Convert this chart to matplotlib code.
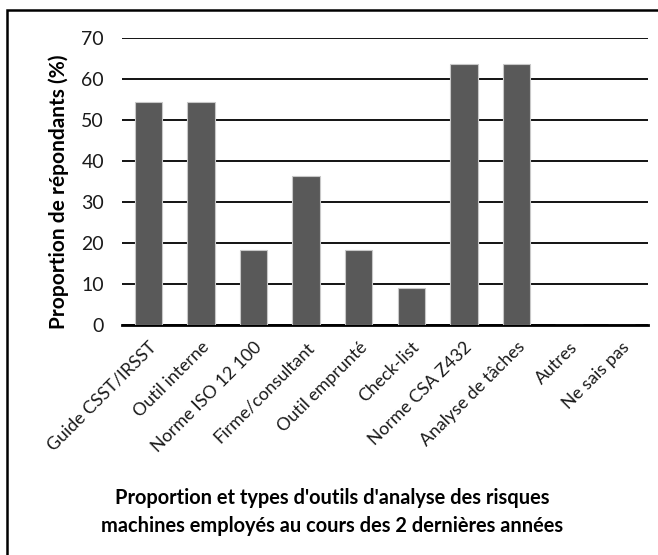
import matplotlib
matplotlib.use("Agg")
import matplotlib.pyplot as plt
from matplotlib.patches import Rectangle

categories = ["Guide CSST/IRSST", "Outil interne", "Norme ISO 12 100",
              "Firme/consultant", "Outil emprunté", "Check-list",
              "Norme CSA Z432", "Analyse de tâches", "Autres", "Ne sais pas"]
values = [54.5, 54.5, 18.2, 36.4, 18.2, 9.1, 63.6, 63.6, 0, 0]
yticks = [0, 10, 20, 30, 40, 50, 60, 70]
ylabel = "Proportion de répondants (%)"
title = "Proportion et types d'outils d'analyse des risques\nmachines employés au cours des 2 dernières années"

plt.rcParams['font.family'] = ['Lato', 'DejaVu Sans']

W, H = 658, 555
fig = plt.figure(figsize=(W/100, H/100), dpi=100)

def fx(px): return px / W
def fy(py): return 1 - py / H

ax = fig.add_axes([fx(122), fy(325), fx(648) - fx(122), fy(38) - fy(325)])
x = list(range(len(categories)))
ax.bar(x, values, width=0.52, color="#595959", edgecolor="#c8c8c8", linewidth=0.8, zorder=3)
ax.set_xlim(-0.5, len(categories) - 0.5)
ax.set_ylim(0, 70)
ax.set_yticks(yticks)
ax.set_yticklabels([str(t) for t in yticks], fontsize=14, color="#1a1a1a")
ax.yaxis.grid(True, color="black", linewidth=1.3, zorder=0)
ax.set_axisbelow(True)
for s in ["top", "right", "left"]:
    ax.spines[s].set_visible(False)
ax.spines["bottom"].set_linewidth(2)
ax.tick_params(axis="y", length=0, pad=13)
ax.tick_params(axis="x", length=0, pad=10)
ax.set_xticks(x)
ax.set_xticklabels(categories, rotation=45, ha="right", rotation_mode="anchor",
                   fontsize=12.8, color="#1a1a1a")
ax.set_ylabel(ylabel, fontsize=15, fontweight="bold")
ax.yaxis.set_label_coords(-0.1, 0.465)

fig.text(fx(332), fy(512), title, ha="center", va="center", fontsize=14.4,
         fontweight="bold", linespacing=1.5)

fig.patches.append(Rectangle((fx(7), fy(600)), 1.2, fy(10) - fy(600),
                             transform=fig.transFigure, fill=False,
                             edgecolor="black", linewidth=1.8))

fig.savefig("out.png", dpi=100)
